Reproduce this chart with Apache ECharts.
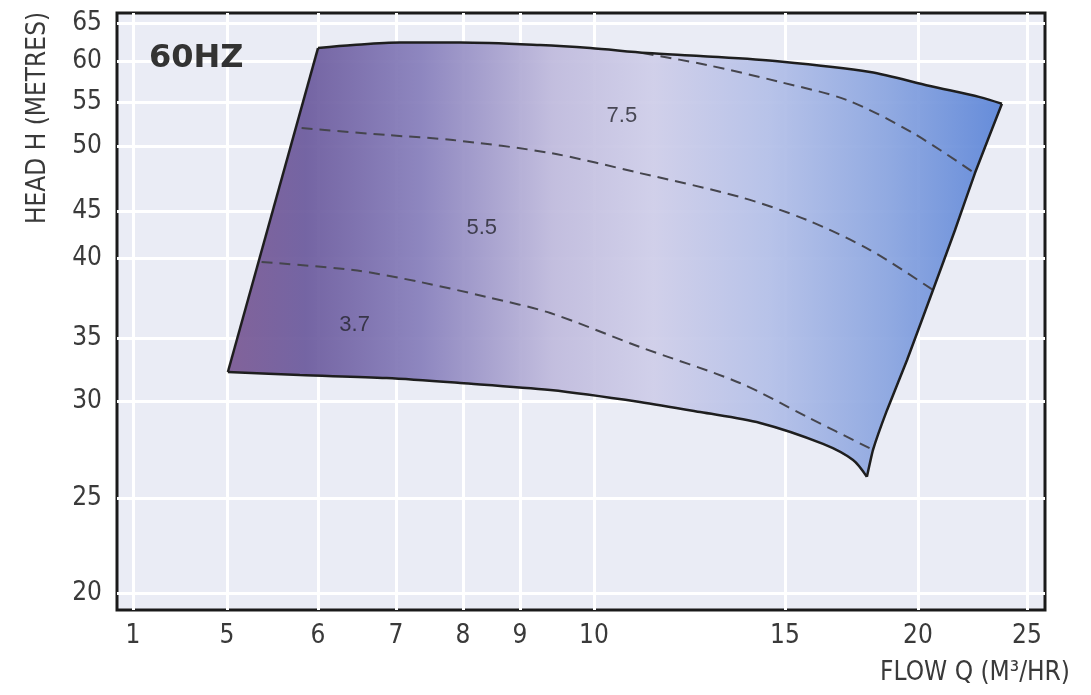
<!DOCTYPE html>
<html><head><meta charset="utf-8">
<script src="https://cdn.jsdelivr.net/npm/echarts@6/dist/echarts.min.js"></script>
<style>html,body{margin:0;padding:0;background:#fff}#c{width:1091px;height:695px}</style>
</head><body><div id="c"></div>
<script>
// ---- axis ticks (printed, non-uniform pump-curve scale) ----
const flowTicks = [1, 5, 6, 7, 8, 9, 10, 15, 20, 25];
const headTicks = [20, 25, 30, 35, 40, 45, 50, 55, 60, 65];
// where each printed tick sits along its axis, in % of the axis length
const flowTickAt = [1.72, 11.85, 21.66, 30.06, 37.28, 43.43, 51.40, 71.98, 86.31, 98.06];
const headTickAt = [2.85, 18.76, 35.01, 45.56, 58.96, 66.83, 77.72, 85.09, 91.96, 98.32];

// ---- operating envelope (flow m3/hr, head m) ----
const topFlow = [6.0, 6.45, 7.06, 7.96, 9.27, 9.95, 11.39, 12.78, 14.87, 18.2, 20.55, 22.84, 23.85];
const topHead = [61.7, 62.1, 62.43, 62.43, 62.1, 61.7, 61.05, 60.66, 59.95, 58.66, 56.95, 55.6, 54.8];
const rightFlow = [23.85, 22.61, 21.7, 20.69, 19.59, 18.84, 18.31, 18.08];
const rightHead = [54.8, 47.9, 42.98, 38.0, 33.25, 29.54, 27.48, 26.09];
const bottomFlow = [5.01, 5.80, 6.88, 7.96, 9.41, 11.2, 12.78, 14.35, 16.43, 17.56, 18.08];
const bottomHead = [32.3, 32.06, 31.82, 31.43, 30.87, 29.95, 29.43, 28.87, 27.79, 26.96, 26.09];

// ---- motor power curves (kW) ----
const kw37Flow = [5.38, 6.45, 7.36, 8.42, 9.41, 11.2, 13.82, 15.83, 18.31];
const kw37Head = [39.75, 39.25, 38.5, 37.56, 36.56, 34.29, 31.43, 29.18, 27.48];
const kw55Flow = [5.82, 6.88, 7.85, 9.41, 11.2, 13.82, 15.83, 18.2, 20.69];
const kw55Head = [52.05, 51.25, 50.68, 49.46, 47.92, 46.08, 44.04, 40.85, 38.0];
const kw75Flow = [11.28, 12.96, 14.87, 17.33, 19.81, 22.61];
const kw75Head = [61.05, 59.51, 57.44, 55.24, 51.48, 47.9];

const curveNames = ['3.7', '5.5', '7.5'];
const curveLabelFlow = [6.47, 8.33, 10.73];
const curveLabelHead = [35.8, 43.2, 53.4];

// ---- scale: piecewise mapping between printed ticks ----
function warp(v, ticks, at) {
  let i = 1;
  while (i < ticks.length - 1 && v > ticks[i]) i++;
  const t = (v - ticks[i - 1]) / (ticks[i] - ticks[i - 1]);
  return at[i - 1] + t * (at[i] - at[i - 1]);
}
const wx = v => warp(v, flowTicks, flowTickAt);
const wy = v => warp(v, headTicks, headTickAt);
const pts = (fs, hs) => fs.map((f, i) => [wx(f), wy(hs[i])]);
function tickName(v, at, ticks) {
  let best = 0;
  at.forEach((p, i) => { if (Math.abs(p - v) < Math.abs(at[best] - v)) best = i; });
  return String(ticks[best]);
}

const FONT = '"Liberation Sans Narrow", "DejaVu Sans Condensed", Arial, sans-serif';
const outlinePts = [
  ...pts(topFlow, topHead),
  ...pts(rightFlow.slice(1), rightHead.slice(1)),
  ...pts(bottomFlow.slice(0, -1), bottomHead.slice(0, -1)).reverse()
];

const edgeStyle = { color: '#1e1e1e', width: 2.5 };
const dashStyle = { color: '#45454d', width: 2, type: [11, 7] };

const chart = echarts.init(document.getElementById('c'));
chart.setOption({
  animation: false,
  backgroundColor: '#ffffff',
  grid: {
    left: 117, top: 13, right: 46, bottom: 85,
    show: true, backgroundColor: '#eaecf5', borderColor: '#1a1a1a', borderWidth: 3,
    outerBoundsMode: 'none'
  },
  xAxis: {
    type: 'value', min: 0, max: 100,
    axisLine: { show: false },
    axisTick: { show: false, customValues: flowTickAt },
    axisLabel: {
      customValues: flowTickAt,
      formatter: v => tickName(v, flowTickAt, flowTicks),
      fontSize: 26, color: '#3a3a3a', fontFamily: FONT, margin: 13
    },
    splitLine: { show: true, lineStyle: { color: '#ffffff', width: 3 } }
  },
  yAxis: {
    type: 'value', min: 0, max: 100,
    axisLine: { show: false },
    axisTick: { show: false, customValues: headTickAt },
    axisLabel: {
      customValues: headTickAt,
      formatter: v => tickName(v, headTickAt, headTicks),
      fontSize: 26, color: '#3a3a3a', fontFamily: FONT, margin: 15
    },
    splitLine: { show: true, lineStyle: { color: '#ffffff', width: 3 } }
  },
  graphic: [
    { type: 'text', x: 38, y: 118, rotation: Math.PI / 2,
      style: { text: 'HEAD H (METRES)', fill: '#3a3a3a', font: '26px ' + FONT, align: 'center', verticalAlign: 'middle' } },
    { type: 'text', x: 1070, y: 673,
      style: { text: 'FLOW Q (M³/HR)', fill: '#3a3a3a', font: '26px ' + FONT, align: 'right', verticalAlign: 'middle' } },
    { type: 'text', x: 149, y: 59, z: 10,
      style: { text: '60HZ', fill: '#333333', font: 'bold 32px "DejaVu Sans", sans-serif', align: 'left', verticalAlign: 'middle' } }
  ],
  series: [
    {
      type: 'custom', coordinateSystem: 'cartesian2d', silent: true, z: 2,
      data: [outlinePts[0]],
      renderItem: (params, api) => ({
        type: 'polygon',
        shape: { points: outlinePts.map(p => api.coord(p)) },
        style: {
          opacity: 0.94,
          fill: new echarts.graphic.LinearGradient(0, 0, 1, 0, [
            { offset: 0, color: '#7b5a94' },
            { offset: 0.1, color: '#6d5c9e' },
            { offset: 0.25, color: '#8880bc' },
            { offset: 0.42, color: '#c0bbdd' },
            { offset: 0.55, color: '#cfcee9' },
            { offset: 0.7, color: '#b4c0e8' },
            { offset: 0.85, color: '#8ca6e0' },
            { offset: 1, color: '#5d86d8' }
          ])
        }
      })
    },
    { type: 'line', z: 4, smooth: 0.3, symbol: 'none', lineStyle: edgeStyle, data: pts(topFlow, topHead) },
    { type: 'line', z: 4, smooth: 0.12, symbol: 'none', lineStyle: edgeStyle, data: pts(rightFlow, rightHead) },
    { type: 'line', z: 4, smooth: 0.3, symbol: 'none', lineStyle: edgeStyle, data: pts(bottomFlow, bottomHead) },
    { type: 'line', z: 4, symbol: 'none', lineStyle: edgeStyle,
      data: pts([bottomFlow[0], topFlow[0]], [bottomHead[0], topHead[0]]) },
    { type: 'line', z: 3, smooth: 0.3, symbol: 'none', lineStyle: dashStyle, data: pts(kw37Flow, kw37Head) },
    { type: 'line', z: 3, smooth: 0.3, symbol: 'none', lineStyle: dashStyle, data: pts(kw55Flow, kw55Head) },
    { type: 'line', z: 3, smooth: 0.3, symbol: 'none', lineStyle: dashStyle, data: pts(kw75Flow, kw75Head) },
    {
      type: 'scatter', z: 5, symbolSize: 0, silent: true,
      data: curveNames.map((n, i) => ({ name: n, value: [wx(curveLabelFlow[i]), wy(curveLabelHead[i])] })),
      label: { show: true, position: 'inside', formatter: '{b}', fontSize: 22, color: '#26262e', fontFamily: '"Liberation Sans", Arial, sans-serif' }
    }
  ]
});
</script>
</body></html>
